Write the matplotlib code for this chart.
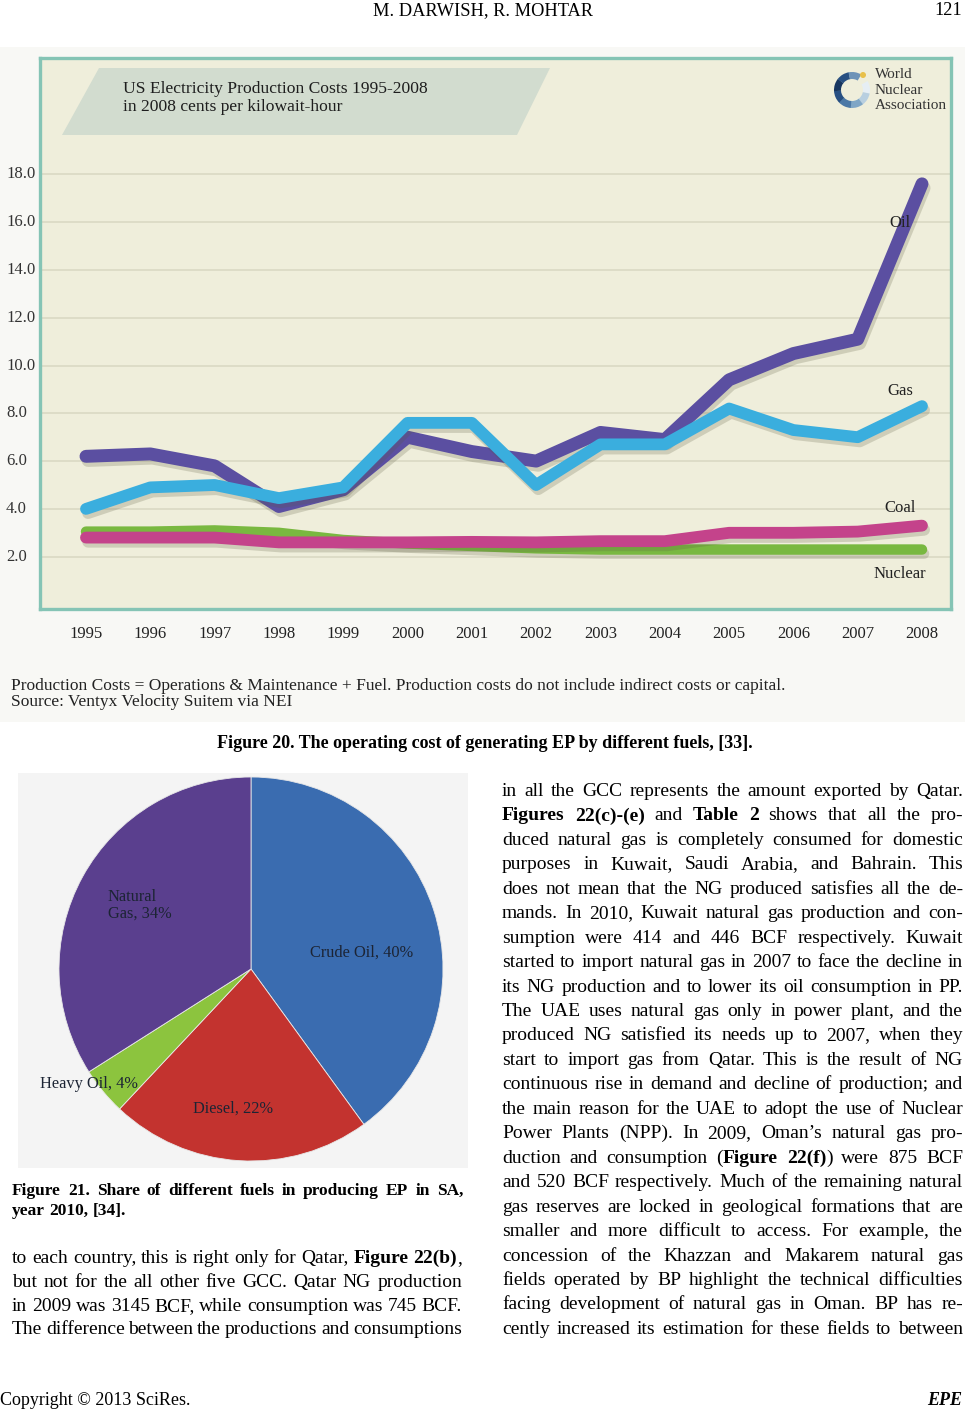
import matplotlib
matplotlib.use('Agg')
import matplotlib.pyplot as plt
import matplotlib.patches as mpatches
import matplotlib.patheffects as pe
import matplotlib.transforms as mtrans
import numpy as np

SERIF = 'Liberation Serif'
plt.rcParams['font.family'] = [SERIF, 'DejaVu Serif']

# ---- data for figure 20 (cents per kWh) ----
years = list(range(1995, 2009))
oil = [6.2, 6.3, 5.8, 4.1, 4.8, 7.0, 6.4, 6.0, 7.2, 6.9, 9.4, 10.5, 11.1, 17.6]
gas = [4.0, 4.9, 5.0, 4.45, 4.9, 7.6, 7.6, 5.0, 6.7, 6.7, 8.2, 7.3, 7.0, 8.3]
coal = [2.8, 2.8, 2.8, 2.6, 2.6, 2.6, 2.62, 2.6, 2.65, 2.65, 3.0, 3.0, 3.05, 3.3]
nuclear = [3.05, 3.05, 3.1, 3.0, 2.7, 2.55, 2.45, 2.35, 2.3, 2.3, 2.3, 2.3, 2.3, 2.3]
y_ticks = [2, 4, 6, 8, 10, 12, 14, 16, 18]

# ---- data for figure 21 (share in %) ----
fuels = ['Crude Oil', 'Diesel', 'Heavy Oil', 'Natural Gas']
shares = [40, 22, 4, 34]

# ---- page text (*...* = bold) ----
left_lines = [
    "to each country, this is right only for Qatar, *Figure 22(b)*,",
    "but not for the all other five GCC. Qatar NG production",
    "in 2009 was 3145 BCF, while consumption was 745 BCF.",
    "The difference between the productions and consumptions",
]
right_lines = [
    "in all the GCC represents the amount exported by Qatar.",
    "*Figures 22(c)-(e)* and *Table 2* shows that all the pro-",
    "duced natural gas is completely consumed for domestic",
    "purposes in Kuwait, Saudi Arabia, and Bahrain. This",
    "does not mean that the NG produced satisfies all the de-",
    "mands. In 2010, Kuwait natural gas production and con-",
    "sumption were 414 and 446 BCF respectively. Kuwait",
    "started to import natural gas in 2007 to face the decline in",
    "its NG production and to lower its oil consumption in PP.",
    "The UAE uses natural gas only in power plant, and the",
    "produced NG satisfied its needs up to 2007, when they",
    "start to import gas from Qatar. This is the result of NG",
    "continuous rise in demand and decline of production; and",
    "the main reason for the UAE to adopt the use of Nuclear",
    "Power Plants (NPP). In 2009, Oman\u2019s natural gas pro-",
    "duction and consumption (*Figure 22(f)*) were 875 BCF",
    "and 520 BCF respectively. Much of the remaining natural",
    "gas reserves are locked in geological formations that are",
    "smaller and more difficult to access. For example, the",
    "concession of the Khazzan and Makarem natural gas",
    "fields operated by BP highlight the technical difficulties",
    "facing development of natural gas in Oman. BP has re-",
    "cently increased its estimation for these fields to between",
]
caption21 = ["*Figure 21. Share of different fuels in producing EP in SA,*",
             "*year 2010, [34].*"]

W, H = 965, 1414
fig = plt.figure(figsize=(W / 100, H / 100), dpi=100)
fig.patch.set_facecolor('white')
renderer = fig.canvas.get_renderer()

# page overlay (pixel coordinates, y down)
page = fig.add_axes([0, 0, 1, 1], zorder=0)
page.set_xlim(0, W)
page.set_ylim(H, 0)
page.axis('off')
top = fig.add_axes([0, 0, 1, 1], zorder=5)
top.set_xlim(0, W)
top.set_ylim(H, 0)
top.axis('off')
top.patch.set_alpha(0)


def draw_line(ax, line, x0, x1, y, size, justify=True):
    # draw one line of text word by word, stretching spaces to fill x0..x1
    words = []
    bold = False
    for token in line.split(' '):
        runs = []
        for i, part in enumerate(token.split('*')):
            if i > 0:
                bold = not bold
            if part:
                runs.append((part, bold))
        words.append(runs)
    placed = []
    widths = []
    for runs in words:
        items = []
        w = 0
        for s, b in runs:
            t = ax.text(0, y, s, fontsize=size, fontweight='bold' if b else 'normal',
                        ha='left', va='baseline', color='black')
            tw = t.get_window_extent(renderer).width
            items.append((t, tw))
            w += tw
        placed.append(items)
        widths.append(w)
    if justify and len(words) > 1:
        gap = (x1 - x0 - sum(widths)) / (len(words) - 1)
    else:
        gap = size * 0.25 * 100 / 72
    x = x0
    for items in placed:
        for t, tw in items:
            t.set_x(x)
            x += tw
        x += gap


# header / footer
page.text(483, 15, "M. DARWISH, R. MOHTAR", fontsize=13.2, ha='center', va='baseline')
page.text(962, 15, "121", fontsize=13.2, ha='right', va='baseline')
page.text(0, 1405, "Copyright \u00a9 2013 SciRes.", fontsize=13, ha='left', va='baseline')
page.text(962, 1405, "EPE", fontsize=13, ha='right', va='baseline',
          fontweight='bold', fontstyle='italic')

# light background of the figure 20 image and the pie image
page.add_patch(mpatches.Rectangle((0, 47), W, 675, color='#f8f8f5', lw=0))
page.add_patch(mpatches.Rectangle((18, 773), 450, 395, color='#f4f4f4', lw=0))

# ---- figure 20: line chart ----
x_px0, x_px1, y_px0, y_px1 = 40, 951, 58, 609
ax = fig.add_axes([x_px0 / W, 1 - y_px1 / H, (x_px1 - x_px0) / W, (y_px1 - y_px0) / H], zorder=2)
ax.set_facecolor('#efeedb')
step = 64.3
ax.set_xlim(1995 - (86 - x_px0) / step, 2008 + (x_px1 - 922) / step)
ppu = 23.9
ax.set_ylim(-(y_px1 - 604.5) / ppu, (604.5 - y_px0) / ppu)
for s in ax.spines.values():
    s.set_color('#85c4b5')
    s.set_linewidth(2.4)
ax.set_yticks(y_ticks)
ax.set_yticklabels([])
ax.yaxis.grid(True, color='#dcdbc5', lw=1.3)
ax.set_axisbelow(True)
ax.set_xticks(years)
ax.set_xticklabels([str(y) for y in years], fontsize=12, color='#222222')
ax.tick_params(length=0)
ax.tick_params(axis='x', pad=12.5)

shadow = [pe.SimpleLineShadow(offset=(1.5, -3), shadow_color='#5a5a40', alpha=0.22), pe.Normal()]
series = [
    (nuclear, '#79b840', 7.5),
    (coal, '#c4438b', 8.5),
    (oil, '#5b4fa1', 9.3),
    (gas, '#3aaede', 8.5),
]
for vals, col, lw in series:
    ax.plot(years, vals, color=col, lw=lw, solid_capstyle='round', solid_joinstyle='round',
            path_effects=shadow)

for name, xv, yv in [('Oil', 2007.66, 15.95), ('Gas', 2007.66, 8.95),
                     ('Coal', 2007.66, 4.05), ('Nuclear', 2007.66, 1.28)]:
    ax.text(xv, yv, name, fontsize=12, ha='center', va='center', color='#222222')

ytrans = mtrans.blended_transform_factory(page.transData, ax.transData)
for v in y_ticks:
    page.text(6, v, f'{v:.1f}', transform=ytrans, fontsize=12, ha='left', va='center',
              color='#333333')

# banner with title
top.add_patch(mpatches.Polygon([(99, 68), (550, 68), (517, 135), (62, 135)],
                               closed=True, color='#d2dccf', lw=0))
top.text(123, 93, "US Electricity Production Costs 1995-2008", fontsize=12.6,
         ha='left', va='baseline', color='#1e1e1e')
top.text(123, 111, "in 2008 cents per kilowait-hour", fontsize=12.6,
         ha='left', va='baseline', color='#1e1e1e')

# logo
cx, cy = 852, 90
shades = ['#e6eef4', '#b8cfe0', '#7fa6c6', '#4b78a6', '#274f82', '#173660', '#274f82', '#6e93b8']
angs = np.linspace(-30, 300, len(shades) + 1)
for i, c in enumerate(shades):
    top.add_patch(mpatches.Wedge((cx, cy), 18, angs[i], angs[i + 1] + 1, width=7, color=c, lw=0))
top.add_patch(mpatches.Circle((863, 75), 3, color='#e8c04a', lw=0))
for i, s in enumerate(["World", "Nuclear", "Association"]):
    top.text(875, 78 + 15.5 * i, s, fontsize=11, ha='left', va='baseline', color='#333333')

# notes under the chart
page.text(11, 690, "Production Costs = Operations & Maintenance + Fuel. Production costs do not "
          "include indirect costs or capital.", fontsize=12.5, ha='left', va='baseline',
          color='#222222')
page.text(11, 706, "Source: Ventyx Velocity Suitem via NEI", fontsize=12.5, ha='left',
          va='baseline', color='#222222')
page.text(485, 748, "Figure 20. The operating cost of generating EP by different fuels, [33].",
          fontsize=13, fontweight='bold', ha='center', va='baseline')

# ---- figure 21: pie ----
pcx, pcy, pr = 251, 969, 192
axp = fig.add_axes([(pcx - pr) / W, 1 - (pcy + pr) / H, 2 * pr / W, 2 * pr / H], zorder=2)
axp.pie(shares, colors=['#3a6cb0', '#c3332f', '#8cc43e', '#5a3f8e'], startangle=90,
        counterclock=False, wedgeprops=dict(edgecolor='#e8e8e8', linewidth=0.6))
axp.set_xlim(-1, 1)
axp.set_ylim(-1, 1)
axp.set_aspect('equal')
axp.axis('off')

pie_labels = [("Crude Oil, 40%", 310, 957), ("Diesel, 22%", 193, 1113),
              ("Heavy Oil, 4%", 40, 1088), ("Natural\nGas, 34%", 108, 918)]
for txt, lx, ly in pie_labels:
    top.text(lx, ly, txt, fontsize=11.8, ha='left', va='baseline', color='#1c2434',
             linespacing=1.05)

# ---- text columns ----
draw_line(page, caption21[0], 12, 463, 1195, 12.5)
draw_line(page, caption21[1], 12, 463, 1215, 12.5, justify=False)
for i, ln in enumerate(left_lines):
    draw_line(page, ln, 12, 462, 1263 + 23.8 * i, 14)
for i, ln in enumerate(right_lines):
    draw_line(page, ln, 502, 963, 796 + 24.45 * i, 14)

fig.savefig('out.png', dpi=100)
